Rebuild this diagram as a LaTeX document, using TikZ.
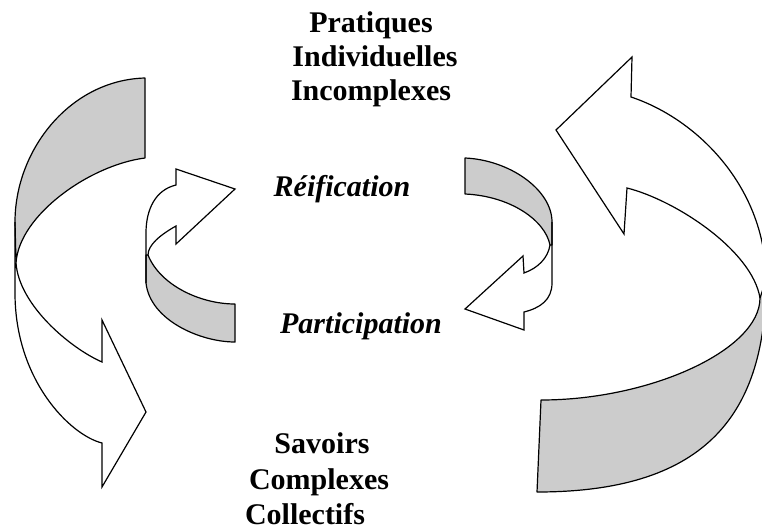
\documentclass[tikz,border=0pt]{standalone}
\usepackage{fontspec}
\setmainfont{Liberation Serif}
\definecolor{bandgray}{RGB}{204,204,204}
\begin{document}
\begin{tikzpicture}[x=1pt,y=-1pt,
  band/.style={fill=bandgray,draw=black,line width=1.2pt,line join=round},
  edge/.style={draw=black,line width=1.2pt,line join=miter},
  lbl/.style={font=\bfseries\fontsize{30}{34}\selectfont,inner sep=0pt,anchor=base},
  ilbl/.style={font=\bfseries\itshape\fontsize{30}{34}\selectfont,inner sep=0pt,anchor=base}]
\clip (0,0) rectangle (762,530);
\fill[white] (0,0) rectangle (762,530);

% ---- big left arrow ----
\path[band] (145,78) .. controls (70,80) and (15,150) .. (15,222)
  -- (16,263) .. controls (19,215) and (90,165) .. (145,158) -- cycle;
\path[edge] (16,263) .. controls (19,305) and (70,348) .. (102,362)
  -- (102,320) -- (146,412) -- (102,487) -- (102,443)
  .. controls (70,435) and (15,380) .. (15,293) -- (15,222);

% ---- big right arrow ----
\path[band] (760,298) .. controls (760,350) and (650,400) .. (541,400)
  -- (537,492) .. controls (700,492) and (766,420) .. (766,280) -- cycle;
\path[edge] (760,298) .. controls (752,250) and (675,200) .. (627,188)
  -- (624,234) -- (556,130) -- (632,57) -- (631,97)
  .. controls (700,120) and (766,190) .. (766,280);

% ---- small left arrow ----
\path[band] (148,255) .. controls (160,285) and (200,304) .. (235,304)
  -- (235,342) .. controls (200,342) and (150,320) .. (146,283)
  -- (146,255) -- cycle;
\path[edge] (148,255) .. controls (148,245) and (160,235) .. (176,226)
  -- (176,244) -- (235,189) -- (176,169) -- (176,185)
  .. controls (155,190) and (146,210) .. (146,233) -- (146,283);

% ---- small right arrow ----
\path[band] (465,158) .. controls (510,160) and (552,190) .. (552,222)
  -- (552,245) -- (550,245) .. controls (545,220) and (510,196) .. (465,194) -- cycle;
\path[edge] (550,245) .. controls (548,258) and (538,268) .. (524,273)
  -- (523,256) -- (465,309) -- (524,330) -- (524,312)
  .. controls (540,308) and (552,300) .. (552,283) -- (552,222);

% ---- labels ----
\node[lbl] (p1) at (371,32) {Pratiques};
\node[lbl] (p2) at (375,66) {Individuelles};
\node[lbl] (p3) at (371,100) {Incomplexes};
\node[ilbl] (reif) at (342,196) {Réification};
\node[ilbl] (part) at (361,333) {Participation};
\node[lbl] (s1) at (322,453) {Savoirs};
\node[lbl] (s2) at (319,489) {Complexes};
\node[lbl] (s3) at (305,524) {Collectifs};
\end{tikzpicture}
\end{document}
